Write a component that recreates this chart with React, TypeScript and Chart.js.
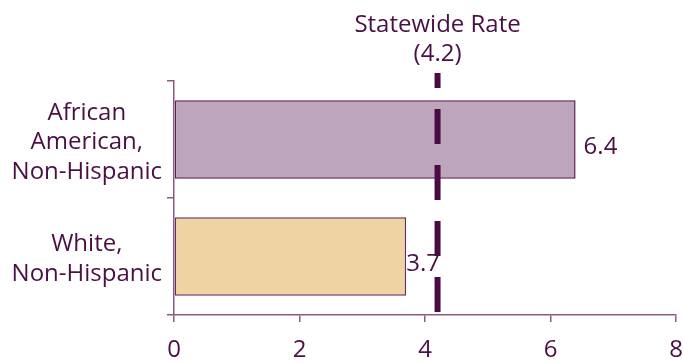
import React, { useEffect, useRef } from 'react';
import { Chart, registerables } from 'chart.js';

Chart.register(...registerables);

const categories: string[][] = [
  ['African', 'American,', 'Non-Hispanic'],
  ['White,', 'Non-Hispanic'],
];
const rates: number[] = [6.4, 3.7];
const rateLabels: string[] = ['6.4', '3.7'];
const statewideRate = 4.2;
const statewideLabel: string[] = ['Statewide Rate', '(4.2)'];
const xMin = 0;
const xMax = 8;
const xStep = 2;

const TEXT = '#4a0f44';
const AXIS = '#8a5a83';
const DARK = '#4a0a42';
const FONT = '"Open Sans", sans-serif';

export default function App() {
  const ref = useRef<HTMLCanvasElement | null>(null);

  useEffect(() => {
    if (!ref.current) return;

    const overlay = {
      id: 'overlay',
      afterDatasetsDraw(chart: any) {
        const ctx = chart.ctx;
        const xs = chart.scales.x;
        const area = chart.chartArea;
        const labelOffsets = [8, 0];
        // value labels
        const meta = chart.getDatasetMeta(0);
        ctx.save();
        ctx.fillStyle = TEXT;
        ctx.font = `24px ${FONT}`;
        ctx.textAlign = 'left';
        ctx.textBaseline = 'middle';
        meta.data.forEach((bar: any, i: number) => {
          ctx.fillText(rateLabels[i], bar.x + labelOffsets[i], bar.y + 8);
        });
        // dashed statewide line
        const x = xs.getPixelForValue(statewideRate);
        ctx.strokeStyle = DARK;
        ctx.lineWidth = 6;
        ctx.setLineDash([35, 21]);
        ctx.beginPath();
        ctx.moveTo(x, area.bottom - 3);
        ctx.lineTo(x, area.top - 8);
        ctx.stroke();
        ctx.setLineDash([]);
        // label
        ctx.textAlign = 'center';
        ctx.textBaseline = 'alphabetic';
        ctx.font = `24px ${FONT}`;
        ctx.fillText(statewideLabel[0], x, 32);
        ctx.fillText(statewideLabel[1], x, 61);
        ctx.restore();
      },
    };

    const chart = new Chart(ref.current, {
      type: 'bar',
      data: {
        labels: categories,
        datasets: [
          {
            data: rates,
            backgroundColor: ['#bda5bc', '#efd4a3'],
            borderColor: ['#5a1c52', '#6a2c60'],
            borderWidth: 1.5,
            borderSkipped: false,
            categoryPercentage: 1,
            barPercentage: 0.67,
          },
        ],
      },
      options: {
        indexAxis: 'y',
        animation: false,
        responsive: false,
        maintainAspectRatio: false,
        layout: { padding: { top: 81, right: 7, left: 0, bottom: 0 } },
        plugins: {
          legend: { display: false },
          tooltip: { enabled: false },
        },
        scales: {
          x: {
            min: xMin,
            max: xMax,
            ticks: {
              stepSize: xStep,
              color: TEXT,
              font: { family: FONT, size: 24 },
              padding: 14,
            },
            grid: {
              drawOnChartArea: false,
              drawTicks: true,
              tickLength: 7,
              color: AXIS,
              lineWidth: 1.5,
            },
            border: { display: true, color: AXIS, width: 1.5 },
            afterFit(scale: any) {
              scale.height = 49;
              scale.paddingRight = 0;
              scale.paddingLeft = 0;
            },
          },
          y: {
            offset: true,
            ticks: {
              color: TEXT,
              font: { family: FONT, size: 24, lineHeight: 1.24 },
              padding: 5,
              crossAlign: 'center',
              labelOffset: 3,
            },
            grid: {
              offset: true,
              drawOnChartArea: false,
              drawTicks: true,
              tickLength: 7,
              color: AXIS,
              lineWidth: 1.5,
            },
            border: { display: true, color: AXIS, width: 1.5 },
            afterFit(scale: any) {
              scale.width = 174;
              scale.paddingTop = 0;
              scale.paddingBottom = 0;
            },
          },
        },
      },
      plugins: [overlay],
    });

    return () => chart.destroy();
  }, []);

  return (
    <div style={{ position: 'fixed', left: 0, top: 0, width: 683, height: 364, background: '#fff' }}>
      <canvas ref={ref} width={683} height={364} style={{ display: 'block' }} />
    </div>
  );
}
